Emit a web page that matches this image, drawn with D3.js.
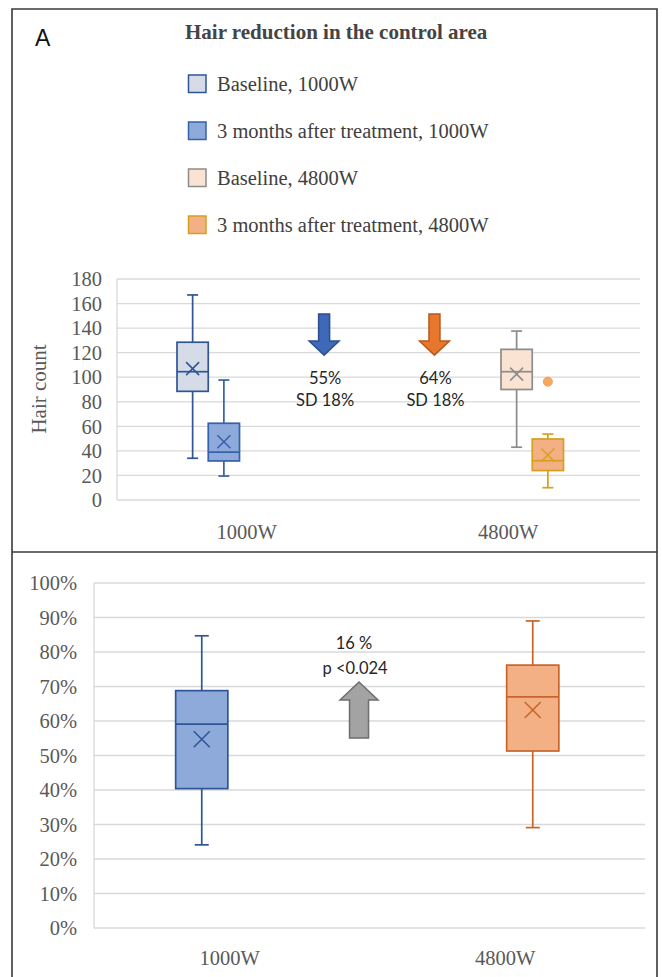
<!DOCTYPE html>
<html>
<head>
<meta charset="utf-8">
<script src="https://cdn.jsdelivr.net/npm/d3@7"></script>
<style>
  body { margin: 0; background: #fff; }
  .serif { font-family: "Liberation Serif", "DejaVu Serif", serif; }
  .sans { font-family: Lato, "Open Sans", "Liberation Sans", sans-serif; }
</style>
</head>
<body>
<svg id="chart" width="662" height="977"></svg>
<script>
// ---------- Panel 1: hair count before / after treatment ----------
const groups = ["1000W", "4800W"];
const seriesNames = [
  "Baseline, 1000W",
  "3 months after treatment, 1000W",
  "Baseline, 4800W",
  "3 months after treatment, 4800W"
];
const seriesGroup = ["1000W", "1000W", "4800W", "4800W"];
const countMin = [34, 19.5, 43, 10];
const countQ1 = [88.5, 31.8, 90, 24];
const countMedian = [104.5, 39, 104.5, 32];
const countQ3 = [128.5, 62.5, 122.7, 49.7];
const countMax = [167, 97.7, 137.6, 53.7];
const countMean = [107, 47.5, 102.5, 36.6];
const countOutliers = [[], [], [], [96.4]];
const countTicks = [0, 20, 40, 60, 80, 100, 120, 140, 160, 180];

// reduction arrows shown between the groups
const reductionLabels = ["55%", "64%"];
const reductionSD = ["SD 18%", "SD 18%"];

// ---------- Panel 2: relative hair reduction ----------
const pctGroups = ["1000W", "4800W"];
const pctMin = [0.241, 0.291];
const pctQ1 = [0.404, 0.513];
const pctMedian = [0.591, 0.67];
const pctQ3 = [0.688, 0.762];
const pctMax = [0.847, 0.89];
const pctMean = [0.547, 0.632];
const pctTicks = [0, 0.1, 0.2, 0.3, 0.4, 0.5, 0.6, 0.7, 0.8, 0.9, 1.0];
const diffLabels = ["16 %", "p <0.024"];

// styles
const countFill = ["#d5dce8", "#8eaadb", "#fbe3d4", "#f3b084"];
const countStroke = ["#2f5597", "#3560aa", "#8c8c8c", "#d6a01e"];
const pctFill = ["#8eaadb", "#f3b084"];
const pctStroke = ["#2f5597", "#c7652a"];
const gridColor = "#d9d9d9";
const axisText = "#595959";
const axisFont = 20.5;
const noteFont = 16.5;

const svg = d3.select("#chart");
svg.append("rect").attr("width", 662).attr("height", 977).attr("fill", "#fff");

// frame of the figure
const frame = svg.append("g").attr("fill", "none").attr("stroke", "#3a3a3a").attr("stroke-width", 1.6);
frame.append("path").attr("d", "M12,978 V9 H657 V978");
frame.append("line").attr("x1", 12).attr("x2", 657).attr("y1", 552).attr("y2", 552);

// panel letter and title
svg.append("text").attr("x", 35).attr("y", 46)
  .attr("font-family", "'Liberation Sans', Arial, sans-serif")
  .attr("font-size", 23).attr("fill", "#111").text("A");
svg.append("text").attr("class", "serif").attr("x", 185).attr("y", 39)
  .attr("font-size", 21).attr("font-weight", "bold").attr("fill", "#444").text("Hair reduction in the control area");

// legend
const legend = svg.append("g");
const legendY = d3.scalePoint().domain(seriesNames).range([84, 225]);
seriesNames.forEach((name, i) => {
  legend.append("rect")
    .attr("x", 188.5).attr("y", legendY(name) - 9)
    .attr("width", 17.5).attr("height", 17.5)
    .attr("fill", countFill[i]).attr("stroke", countStroke[i]).attr("stroke-width", 1.5);
  legend.append("text").attr("class", "serif")
    .attr("x", 217).attr("y", legendY(name)).attr("dy", "0.35em")
    .attr("font-size", 20.5).attr("fill", "#404040").text(name);
});

// draw one box with whiskers, mean cross and outliers
function drawBox(g, cx, w, y, s, fill, stroke, capW, crossR, sw) {
  const b = g.append("g").attr("stroke", stroke).attr("stroke-width", sw);
  b.append("line").attr("x1", cx).attr("x2", cx).attr("y1", y(s.max)).attr("y2", y(s.q3));
  b.append("line").attr("x1", cx).attr("x2", cx).attr("y1", y(s.q1)).attr("y2", y(s.min));
  b.append("line").attr("x1", cx - capW / 2).attr("x2", cx + capW / 2).attr("y1", y(s.max)).attr("y2", y(s.max));
  b.append("line").attr("x1", cx - capW / 2).attr("x2", cx + capW / 2).attr("y1", y(s.min)).attr("y2", y(s.min));
  b.append("rect").attr("x", cx - w / 2).attr("y", y(s.q3)).attr("width", w)
    .attr("height", y(s.q1) - y(s.q3)).attr("fill", fill);
  b.append("line").attr("x1", cx - w / 2).attr("x2", cx + w / 2).attr("y1", y(s.median)).attr("y2", y(s.median));
  const my = y(s.mean);
  b.append("path").attr("fill", "none").attr("stroke-width", sw * 0.9)
    .attr("d", `M${cx - crossR},${my - crossR}L${cx + crossR},${my + crossR}M${cx - crossR},${my + crossR}L${cx + crossR},${my - crossR}`);
  (s.outliers || []).forEach(v => {
    g.append("circle").attr("cx", cx).attr("cy", y(v)).attr("r", 4.5)
      .attr("fill", "#f4a95e").attr("stroke", "#f0a050");
  });
}

// block arrow; tip at (cx, yTip), tail at yTail
function blockArrow(g, cx, yTail, yHeadBase, yTip, shaftW, headW, fill, stroke) {
  const pts = [
    [cx - shaftW / 2, yTail], [cx + shaftW / 2, yTail],
    [cx + shaftW / 2, yHeadBase], [cx + headW / 2, yHeadBase],
    [cx, yTip], [cx - headW / 2, yHeadBase], [cx - shaftW / 2, yHeadBase]
  ];
  g.append("path").attr("d", d3.line()(pts) + "Z")
    .attr("fill", fill).attr("stroke", stroke).attr("stroke-width", 1.5).attr("stroke-linejoin", "miter");
}

// ---------- Panel 1 ----------
{
  const left = 117, right = 640, top = 279, bottom = 500;
  const y = d3.scaleLinear().domain([0, 180]).range([bottom, top]);
  const x0 = d3.scaleBand().domain(groups).range([left, right]);
  const x1 = d3.scaleBand().domain(seriesNames).range([60, 185]);
  const g = svg.append("g");

  g.append("g").selectAll("line").data(countTicks).join("line")
    .attr("x1", left).attr("x2", right).attr("y1", d => y(d)).attr("y2", d => y(d))
    .attr("stroke", gridColor).attr("stroke-width", 1.3);
  g.append("line").attr("x1", left).attr("x2", left).attr("y1", top).attr("y2", bottom)
    .attr("stroke", gridColor).attr("stroke-width", 1.3);

  g.append("g").selectAll("text").data(countTicks).join("text")
    .attr("class", "serif").attr("x", 102).attr("y", d => y(d)).attr("dy", "0.35em")
    .attr("text-anchor", "end").attr("font-size", axisFont).attr("fill", axisText).text(d => d);

  g.append("text").attr("class", "serif")
    .attr("transform", `translate(46,389) rotate(-90)`)
    .attr("text-anchor", "middle").attr("font-size", 21).attr("fill", axisText).text("Hair count");

  g.append("g").selectAll("text").data(groups).join("text")
    .attr("class", "serif").attr("x", d => x0(d) + x0.bandwidth() / 2 - 1).attr("y", 532).attr("dy", "0.35em")
    .attr("text-anchor", "middle").attr("font-size", axisFont).attr("fill", axisText).text(d => d);

  seriesNames.forEach((name, i) => {
    const cx = x0(seriesGroup[i]) + x1(name) + x1.bandwidth() / 2;
    drawBox(g, cx, x1.bandwidth(), y, {
      min: countMin[i], q1: countQ1[i], median: countMedian[i], q3: countQ3[i],
      max: countMax[i], mean: countMean[i], outliers: countOutliers[i]
    }, countFill[i], countStroke[i], 11, 6.5, 1.7);
  });

  // reduction arrows between the two groups
  const xr = d3.scaleLinear().domain([0, 1]).range([left, right]);
  const arrowPos = [0.396, 0.607];
  const arrowFill = ["#3e68b8", "#e8772e"];
  const arrowStroke = ["#2d4f8e", "#b65a1e"];
  arrowPos.forEach((p, i) => {
    blockArrow(g, xr(p), y(151.5), y(129.5), y(118), 11, 30, arrowFill[i], arrowStroke[i]);
    g.append("text").attr("class", "sans").attr("x", xr(p) + 1).attr("y", y(99.4)).attr("dy", "0.35em")
      .attr("text-anchor", "middle").attr("font-size", noteFont).attr("fill", "#262626").text(reductionLabels[i]);
    g.append("text").attr("class", "sans").attr("x", xr(p) + 1).attr("y", y(81.4)).attr("dy", "0.35em")
      .attr("text-anchor", "middle").attr("font-size", noteFont).attr("fill", "#262626").text(reductionSD[i]);
  });
}

// ---------- Panel 2 ----------
{
  const left = 94, right = 645, top = 583, bottom = 928;
  const y = d3.scaleLinear().domain([0, 1]).range([bottom, top]);
  const x0 = d3.scaleBand().domain(pctGroups).range([left, right]);
  const x1 = d3.scaleBand().domain(pctGroups).range([80, 191]);
  const g = svg.append("g");

  g.append("g").selectAll("line").data(pctTicks).join("line")
    .attr("x1", left).attr("x2", right).attr("y1", d => y(d)).attr("y2", d => y(d))
    .attr("stroke", gridColor).attr("stroke-width", 1.3);
  g.append("line").attr("x1", left).attr("x2", left).attr("y1", top).attr("y2", bottom)
    .attr("stroke", gridColor).attr("stroke-width", 1.3);

  g.append("g").selectAll("text").data(pctTicks).join("text")
    .attr("class", "serif").attr("x", 77).attr("y", d => y(d)).attr("dy", "0.35em")
    .attr("text-anchor", "end").attr("font-size", axisFont).attr("fill", axisText).text(d3.format(".0%"));

  g.append("g").selectAll("text").data(pctGroups).join("text")
    .attr("class", "serif").attr("x", d => x0(d) + x0.bandwidth() / 2 - 2).attr("y", 958).attr("dy", "0.35em")
    .attr("text-anchor", "middle").attr("font-size", axisFont).attr("fill", axisText).text(d => d);

  pctGroups.forEach((name, i) => {
    const cx = x0(name) + x1(name) + x1.bandwidth() / 2;
    drawBox(g, cx, x1.bandwidth() * 0.94, y, {
      min: pctMin[i], q1: pctQ1[i], median: pctMedian[i], q3: pctQ3[i],
      max: pctMax[i], mean: pctMean[i], outliers: []
    }, pctFill[i], pctStroke[i], 14, 8, 1.7);
  });

  const xr = d3.scaleLinear().domain([0, 1]).range([left, right]);
  const ax = xr(0.481);
  blockArrow(g, ax, y(0.551), y(0.661), y(0.713), 19, 38, "#a3a3a3", "#6e6e6e");
  g.append("text").attr("class", "sans").attr("x", ax - 5).attr("y", y(0.826)).attr("dy", "0.35em")
    .attr("text-anchor", "middle").attr("font-size", noteFont).attr("fill", "#262626").text(diffLabels[0]);
  g.append("text").attr("class", "sans").attr("x", ax - 4).attr("y", y(0.754)).attr("dy", "0.35em")
    .attr("text-anchor", "middle").attr("font-size", noteFont).attr("fill", "#262626").text(diffLabels[1]);
}
</script>
</body>
</html>
